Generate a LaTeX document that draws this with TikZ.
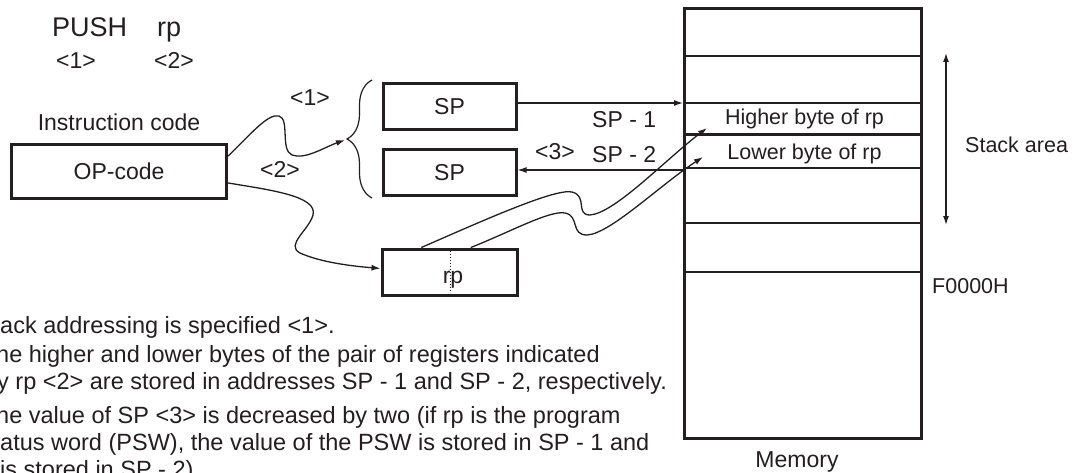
\documentclass[tikz,border=0pt]{standalone}
\usepackage{fontspec}
\setmainfont{Liberation Sans}
\usetikzlibrary{arrows.meta,positioning,decorations.pathreplacing}
\definecolor{cInk}{HTML}{231F20}

\begin{document}
\begin{tikzpicture}[x=1pt, y=-1pt, color=cInk, >={Latex[length=9pt,width=6pt]},
  lbl/.style={inner sep=0pt, font=\fontsize{23}{28}\selectfont},
  reg/.style={draw, line width=3pt, minimum width=133pt, minimum height=46pt,
              inner sep=0pt, font=\fontsize{23}{28}\selectfont},
  cell/.style={inner sep=0pt, font=\fontsize{21.5}{26}\selectfont},
  row/.style={line width=1.5pt},
  ar/.style={->, line width=1.2pt},
  wave/.style={->, line width=1.3pt},
  note/.style={anchor=base west, inner sep=0pt, font=\fontsize{23.5}{28}\selectfont}]

  \useasboundingbox (0,0) rectangle (1073,473);
  \fill[white] (0,0) rectangle (1073,473);
  \clip (0,0) rectangle (1073,473);

  % instruction: PUSH rp
  \node[lbl, font=\fontsize{27}{32}\selectfont, anchor=base west] (push) at (52,37) {PUSH};
  \node[lbl, font=\fontsize{27}{32}\selectfont, anchor=base west] (oprnd) at (157,37) {rp};
  \node[lbl, anchor=base west] (t1) at (56,69) {<1>};
  \node[lbl, anchor=base west] (t2) at (154,69) {<2>};

  % instruction code box
  \node[reg, minimum width=215pt, minimum height=54pt] (op) at (119,171.5) {OP-code};
  \node[lbl, above=12pt of op] (instr) {Instruction code};

  % SP registers and rp
  \node[reg] (sp1) at (449.5,107) {SP};
  \node[reg, below=17pt of sp1] (sp2) {SP};
  \node[reg, minimum width=135pt, below=50pt of sp2] (rp) {};
  \node[lbl, anchor=base] (rptxt) at (453,283) {rp};
  \draw[dash pattern=on 1.3pt off 1.7pt, line width=1.3pt]
    ([shift={(1,3)}]rp.north) -- ([shift={(1,-4)}]rp.south);

  % brace in front of the SP registers
  \draw[line width=1.2pt, decorate, decoration={brace, amplitude=25pt}]
    (372,198) -- (372,80);
  \coordinate (brtip) at (345,140);

  % memory
  \node[draw, line width=3pt, minimum width=237pt, minimum height=430pt,
        inner sep=0pt] (mem) at (803,223.5) {};
  \foreach \yy in {56,103,168,223,272}
    \draw[row] (mem.west |- 0,\yy) -- (mem.east |- 0,\yy);
  \draw[line width=3pt] (mem.west |- 0,135) -- (mem.east |- 0,135);
  \node[cell, anchor=base] (hib) at (804.5,125) {Higher byte of rp};
  \node[cell, anchor=base] (lob) at (804.5,160) {Lower byte of rp};
  \node[cell, anchor=base west] (area) at (965,153) {Stack area};
  \node[cell, anchor=base west] (fadr) at (932,293) {F0000H};
  \node[lbl, anchor=base] (memlbl) at (797,467) {Memory};

  \coordinate (hi) at (mem.west |- 0,103);
  \coordinate (lo) at (mem.west |- 0,170);
  \coordinate (hiin) at (707,128);
  \coordinate (loin) at (703,157);
  \coordinate (stop) at (946,53);
  \coordinate (sbot) at (946,225);

  % labels on the connectors
  \node[lbl, anchor=base west] (w1) at (290,106) {<1>};
  \node[lbl, anchor=base west] (w2) at (260,178) {<2>};
  \node[lbl, anchor=base west] (w3) at (535,160) {<3>};
  \node[lbl, anchor=base west] (spm1) at (592,128) {SP - 1};
  \node[lbl, anchor=base west] (spm2) at (592,163) {SP - 2};

  % connectors
  \draw[ar] (sp1.east |- hi) -- (hi);
  \draw[ar] (lo) -- (sp2.east |- lo);
  \draw[<->, line width=1.3pt] (stop) -- (sbot);
  \draw[wave] (op.8) .. controls (250,135) and (268,113) .. (279,116)
    .. controls (290,119) and (280,150) .. (292,155)
    .. controls (305,160) and (325,147) .. (brtip);
  \draw[wave] (op.-6) .. controls (270,190) and (318,196) .. (313,215)
    .. controls (309,230) and (285,245) .. (300,253)
    .. controls (320,262) and (350,266) .. (rp.177);
  \draw[wave] (rp.139) .. controls (480,222) and (555,188) .. (572,192)
    .. controls (588,196) and (575,215) .. (590,215)
    .. controls (615,213) and (665,160) .. (hiin);
  \draw[wave] (rp.49) .. controls (510,232) and (550,210) .. (565,213)
    .. controls (580,216) and (570,235) .. (587,235)
    .. controls (610,234) and (660,185) .. (loin);

  % explanation below
  \node[note] (n1) at (0,333) {ack addressing is specified <1>.};
  \node[note] (n2) at (-4,362) {he higher and lower bytes of the pair of registers indicated};
  \node[note] (n3) at (-3,389) {y rp <2> are stored in addresses SP - 1 and SP - 2, respectively.};
  \node[note] (n4) at (-4,423) {he value of SP <3> is decreased by two (if rp is the program};
  \node[note] (n5) at (0,450) {atus word (PSW), the value of the PSW is stored in SP - 1 and};
  \node[note] (n6) at (0,477) {is stored in SP - 2).};
\end{tikzpicture}
\end{document}
